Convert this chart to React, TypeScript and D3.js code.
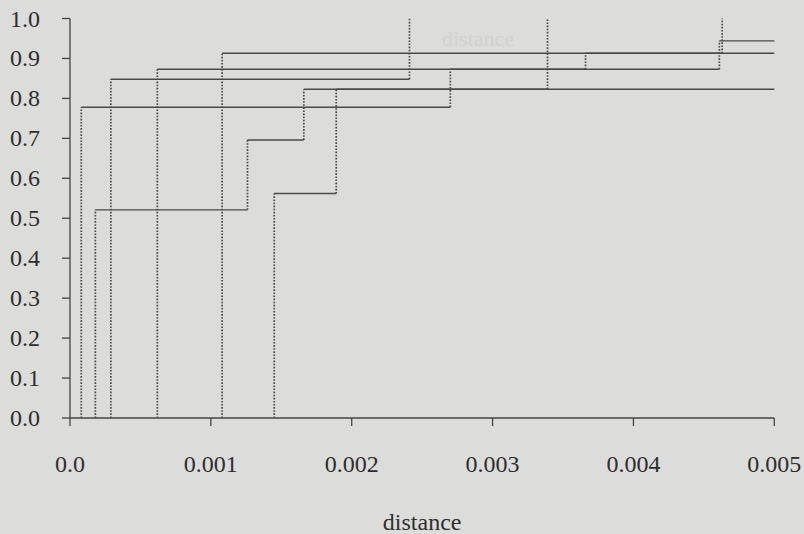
import React from "react";
import * as d3 from "d3";

// Empirical step curves: jump locations (distance) and the level reached at each jump
const stepX1 = [0.00018, 0.00126, 0.00166];
const stepY1 = [0.521, 0.696, 0.823];
const stepX2 = [0.00145, 0.00189, 0.00339];
const stepY2 = [0.562, 0.823, 1.0];
const stepX3 = [0.00008, 0.0027, 0.00366];
const stepY3 = [0.778, 0.873, 0.913];
const stepX4 = [0.00062, 0.00461];
const stepY4 = [0.873, 0.944];
const stepX5 = [0.00108, 0.00463];
const stepY5 = [0.913, 1.0];
const stepX6 = [0.00029, 0.00241];
const stepY6 = [0.848, 1.0];

const xTickValues = [0, 0.001, 0.002, 0.003, 0.004, 0.005];
const xTickLabels = ["0.0", "0.001", "0.002", "0.003", "0.004", "0.005"];
const yTickValues = [0, 0.1, 0.2, 0.3, 0.4, 0.5, 0.6, 0.7, 0.8, 0.9, 1.0];
const xTitle = "distance";

const W = 804;
const H = 534;
const X_MAX = 0.005;

const curves = [
  { xs: stepX1, ys: stepY1 },
  { xs: stepX2, ys: stepY2 },
  { xs: stepX3, ys: stepY3 },
  { xs: stepX4, ys: stepY4 },
  { xs: stepX5, ys: stepY5 },
  { xs: stepX6, ys: stepY6 },
];

export default function App() {
  const x = d3.scaleLinear().domain([0, X_MAX]).range([70, 774.3]);
  const y = d3.scaleLinear().domain([0, 1]).range([418, 18.5]);
  const fmtY = d3.format(".1f");
  const ink = "#2e2e2e";
  const axisInk = "#444444";
  const lineInk = "#4a4a4a";
  const font = "'Liberation Serif', 'Times New Roman', serif";

  const risers: { x: number; y0: number; y1: number }[] = [];
  const runs: { x0: number; x1: number; y: number }[] = [];
  curves.forEach((c) => {
    let level = 0;
    c.xs.forEach((xv, i) => {
      risers.push({ x: xv, y0: level, y1: c.ys[i] });
      level = c.ys[i];
      const next = i + 1 < c.xs.length ? c.xs[i + 1] : X_MAX;
      if (level < 1) runs.push({ x0: xv, x1: next, y: level });
    });
  });

  return (
    <svg
      width={W}
      height={H}
      style={{ position: "absolute", left: 0, top: 0, display: "block" }}
    >
      <rect x={0} y={0} width={W} height={H} fill="#dcdcdb" />
      {/* faint show-through text near the top */}
      <text
        x={478}
        y={46}
        textAnchor="middle"
        fontFamily={font}
        fontSize={22}
        fill="#d2d2d1"
      >
        {xTitle}
      </text>

      {/* axes */}
      <g stroke={axisInk} strokeWidth={1.3} fill="none">
        <line x1={x(0)} x2={x(0)} y1={y(1)} y2={y(0)} />
        <line x1={x(0)} x2={x(X_MAX)} y1={y(0)} y2={y(0)} />
        {yTickValues.map((v) => (
          <line key={"yt" + v} x1={x(0) - 8} x2={x(0)} y1={y(v)} y2={y(v)} />
        ))}
        {xTickValues.map((v) => (
          <line key={"xt" + v} x1={x(v)} x2={x(v)} y1={y(0)} y2={y(0) + 8} />
        ))}
      </g>
      <g fontFamily={font} fontSize={24} fill={ink}>
        {yTickValues.map((v) => (
          <text key={"yl" + v} x={40} y={y(v) + 8} textAnchor="end">
            {fmtY(v)}
          </text>
        ))}
        {xTickValues.map((v, i) => (
          <text key={"xl" + v} x={x(v)} y={472} textAnchor="middle">
            {xTickLabels[i]}
          </text>
        ))}
        <text x={(x(0) + x(X_MAX)) / 2} y={530} textAnchor="middle">
          {xTitle}
        </text>
      </g>

      {/* step curves: solid runs, dotted risers */}
      <g stroke={lineInk} strokeWidth={1.4} fill="none">
        {runs.map((r, i) => (
          <line key={"r" + i} x1={x(r.x0)} x2={x(r.x1)} y1={y(r.y)} y2={y(r.y)} />
        ))}
      </g>
      <g stroke={lineInk} strokeWidth={1.7} strokeDasharray="1.6,1.5" fill="none">
        {risers.map((r, i) => (
          <line key={"v" + i} x1={x(r.x)} x2={x(r.x)} y1={y(r.y0)} y2={y(r.y1)} />
        ))}
      </g>
    </svg>
  );
}
